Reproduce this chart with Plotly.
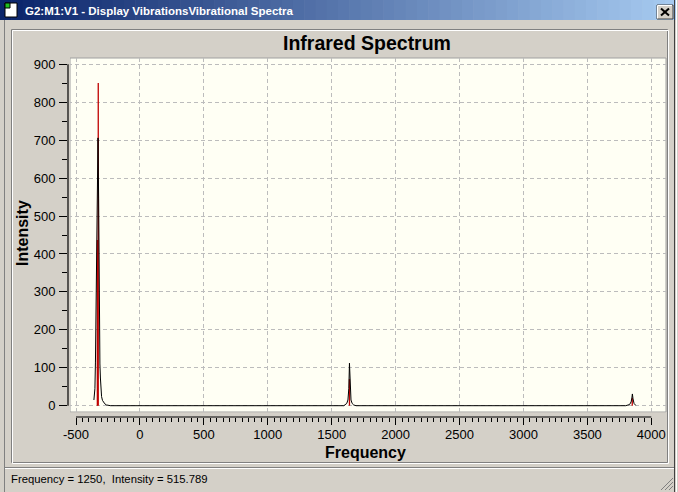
import plotly.graph_objects as go

# ---------------- data ----------------
stick_freq = [-333, -326, 1639, 3851]
stick_int = [437, 851, 70, 20]

curve_freq = [-360, -356, -352, -348, -343, -338, -333, -328, -323, -318, -313, -309,
              -305, -300, -293, -285, -275, -262, -245, -230,
              1595, 1605, 1618, 1627, 1634, 1639, 1644, 1651, 1660, 1672, 1690,
              3800, 3830, 3842, 3848, 3852, 3857, 3865, 3878]
curve_int = [15, 30, 45, 115, 300, 545, 620, 706, 545, 245, 110, 73,
             40, 24, 14, 9, 5, 2, 0.5, 0,
             0, 2, 6, 15, 45, 112, 45, 15, 6, 2, 0,
             0, 3, 10, 20, 31, 18, 6, 1]

x_ticks = [-500, 0, 500, 1000, 1500, 2000, 2500, 3000, 3500, 4000]
y_ticks = [0, 100, 200, 300, 400, 500, 600, 700, 800, 900]
x_minor = list(range(-500, 4001, 50))
y_minor = list(range(0, 901, 50))

chart_title = "Infrared Spectrum"
x_title = "Frequency"
y_title = "Intensity"
window_title = "G2:M1:V1 - Display VibrationsVibrational Spectra"
status_text = "Frequency = 1250,  Intensity = 515.789"

# ---------------- geometry helpers ----------------
W, H = 678, 492
L, R, T, B = 68, 666, 58, 417


def px(x):
    return (x - L) / (R - L)


def py(y):
    return (B - y) / (B - T)


GRAY = "#D4D0C8"
CREAM = "#FFFFF4"
FONT = "Liberation Sans"

# sticks built from the arrays
sx, sy = [], []
for f, i in zip(stick_freq, stick_int):
    sx += [f, f, None]
    sy += [0, i, None]

fig = go.Figure()
fig.add_trace(go.Scatter(x=sx, y=sy, mode="lines",
                         line=dict(color="#C00000", width=1.3),
                         hoverinfo="skip", showlegend=False))
fig.add_trace(go.Scatter(x=curve_freq, y=curve_int, mode="lines",
                         line=dict(color="black", width=1.0),
                         hoverinfo="skip", showlegend=False))

shapes = []


def rect(x0, y0, x1, y1, fill=None, line=None, lw=1, layer="below"):
    shapes.append(dict(type="rect", xref="paper", yref="paper",
                       x0=px(x0), x1=px(x1), y0=py(y1), y1=py(y0),
                       fillcolor=fill if fill else "rgba(0,0,0,0)",
                       line=dict(color=line if line else "rgba(0,0,0,0)", width=lw if line else 0),
                       layer=layer))


def hline(x0, x1, y, color, lw=1, layer="below"):
    shapes.append(dict(type="line", xref="paper", yref="paper",
                       x0=px(x0), x1=px(x1), y0=py(y), y1=py(y),
                       line=dict(color=color, width=lw), layer=layer))


def vline(x, y0, y1, color, lw=1, layer="below"):
    shapes.append(dict(type="line", xref="paper", yref="paper",
                       x0=px(x), x1=px(x), y0=py(y0), y1=py(y1),
                       line=dict(color=color, width=lw), layer=layer))


# title bar gradient
n = 60
c0 = (0x0A, 0x24, 0x6A)
c1 = (0xA6, 0xCA, 0xF0)
for k in range(n):
    t = k / (n - 1)
    col = "rgb(%d,%d,%d)" % tuple(int(a + (b - a) * t) for a, b in zip(c0, c1))
    x0 = 0 + k * 676 / n
    x1 = 0 + (k + 1) * 676 / n + 0.6
    rect(x0, 0, x1, 20, fill=col)

# window borders
vline(674.5, 0, 492, "#404040", 1)
vline(676.5, 0, 492, "#FFFFFF", 1)
vline(4.5, 20, 492, "#808080", 1)

# inner etched frame
rect(11.5, 29.5, 667.5, 462.5, line="#808080")
rect(12.5, 30.5, 668.5, 463.5, line="#FFFFFF")

# status bar
hline(5, 674, 467.5, "#808080")
hline(5, 674, 468.5, "#FFFFFF")

# cream plotting area
rect(70, 58, 666, 412, fill=CREAM, line="#A0A0A0")

# cover strips between frame and axis lines (hide grid overflow)
rect(L - 1, T, 70, B + 0.5, fill=GRAY, layer="above")
rect(L - 1, 412.5, R + 1, B + 0.5, fill=GRAY, layer="above")

# axis lines spanning the tick range
shapes.append(dict(type="line", xref="x", yref="paper",
                   x0=x_ticks[0], x1=x_ticks[-1], y0=0, y1=0,
                   line=dict(color="black", width=1.2), layer="above"))
shapes.append(dict(type="line", xref="paper", yref="y",
                   x0=0, x1=0, y0=y_ticks[0], y1=y_ticks[-1],
                   line=dict(color="black", width=1.2), layer="above"))

# close button
rect(657, 5, 673, 19, fill=GRAY, line="#404040", layer="above")
hline(657.5, 672, 5.5, "#FFFFFF", layer="above")
vline(657.5, 5.5, 18.5, "#FFFFFF", layer="above")
shapes.append(dict(type="line", xref="paper", yref="paper",
                   x0=px(661), x1=px(669), y0=py(8.5), y1=py(15.5),
                   line=dict(color="black", width=2), layer="above"))
shapes.append(dict(type="line", xref="paper", yref="paper",
                   x0=px(661), x1=px(669), y0=py(15.5), y1=py(8.5),
                   line=dict(color="black", width=2), layer="above"))

# window icon
rect(5, 3, 17, 17, fill="#FFFFFF", line="#000000", layer="above")
rect(5, 3, 10, 8, fill="#20C020", line="#000000", layer="above")

# size grip
for d in (4, 8, 12):
    shapes.append(dict(type="line", xref="paper", yref="paper",
                       x0=px(673 - d), x1=px(673), y0=py(490), y1=py(490 - d),
                       line=dict(color="#808080", width=1), layer="above"))

annotations = [
    dict(text="<b>%s</b>" % chart_title, x=px(367), y=py(43), xref="paper", yref="paper",
         showarrow=False, xanchor="center", yanchor="middle",
         font=dict(family=FONT, size=19.5, color="black")),
    dict(text="<b>%s</b>" % x_title, x=px(365), y=py(452), xref="paper", yref="paper",
         showarrow=False, xanchor="center", yanchor="middle",
         font=dict(family=FONT, size=16, color="black")),
    dict(text="<b>%s</b>" % y_title, x=px(22), y=py(233), xref="paper", yref="paper",
         showarrow=False, xanchor="center", yanchor="middle", textangle=-90,
         font=dict(family=FONT, size=16, color="black")),
    dict(text="<b>%s</b>" % window_title, x=px(23), y=py(10.5), xref="paper", yref="paper",
         showarrow=False, xanchor="left", yanchor="middle",
         font=dict(family=FONT, size=11.5, color="white")),
    dict(text=status_text, x=px(9), y=py(479), xref="paper", yref="paper",
         showarrow=False, xanchor="left", yanchor="middle",
         font=dict(family=FONT, size=11.3, color="black")),
]

fig.update_layout(
    width=W, height=H,
    margin=dict(l=L, r=W - R, t=T, b=H - B, pad=0),
    paper_bgcolor=GRAY,
    plot_bgcolor="rgba(0,0,0,0)",
    showlegend=False,
    shapes=shapes,
    annotations=annotations,
    xaxis=dict(range=[-562.6, 4115], tickmode="array", tickvals=x_ticks,
               ticktext=[str(v) for v in x_ticks],
               showline=False, zeroline=False,
               showgrid=True, gridcolor="#BCBCBC", griddash="4px,3px", gridwidth=1,
               ticks="outside", ticklen=7, tickcolor="black", tickwidth=1,
               ticklabelstandoff=-2,
               tickfont=dict(family=FONT, size=13, color="black"),
               minor=dict(tickmode="array", tickvals=x_minor, ticks="outside",
                          ticklen=4, tickcolor="black", tickwidth=1, showgrid=False),
               fixedrange=True),
    yaxis=dict(range=[-29.8, 916.6], tickmode="array", tickvals=y_ticks,
               ticktext=[str(v) for v in y_ticks],
               showline=False, zeroline=False,
               showgrid=True, gridcolor="#BCBCBC", griddash="4px,3px", gridwidth=1,
               ticks="outside", ticklen=8, tickcolor="black", tickwidth=1,
               ticklabelstandoff=1,
               tickfont=dict(family=FONT, size=13, color="black"),
               minor=dict(tickmode="array", tickvals=y_minor, ticks="outside",
                          ticklen=5, tickcolor="black", tickwidth=1, showgrid=False),
               fixedrange=True),
)

fig.write_html("out.html", config={"displayModeBar": False, "staticPlot": True},
               post_script="document.body.style.margin='0px';document.body.style.overflow='hidden';")
